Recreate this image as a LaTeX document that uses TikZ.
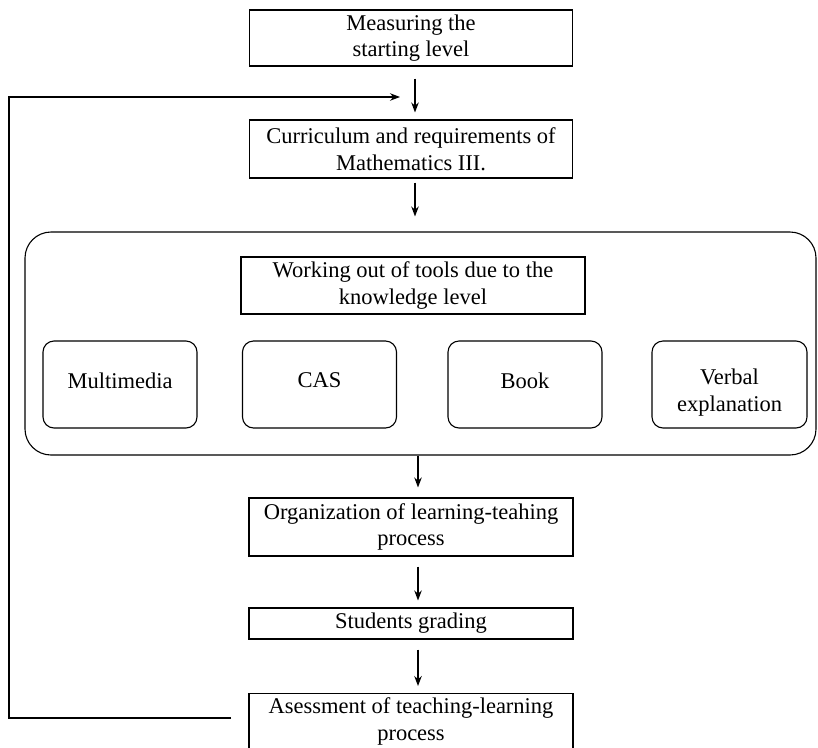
\documentclass[tikz,border=0pt]{standalone}
\usepackage{fontspec}
\setmainfont{Liberation Serif}
\usetikzlibrary{arrows.meta,positioning}
\begin{document}
\begin{tikzpicture}[x=1pt,y=-1pt,
  every node/.style={font=\fontsize{22.5}{26.5}\selectfont, align=center, inner sep=0pt},
  sqbox/.style={draw, line width=1.1pt, minimum width=323pt},
  rbox/.style={draw, line width=1.1pt, rounded corners=11pt, minimum width=154pt, minimum height=87pt},
  arr/.style={line width=1.2pt, -{Stealth[length=10pt,width=7.5pt]}},
  fb/.style={line width=1.2pt}]
\useasboundingbox (0,0) rectangle (818,747);
\clip (0,0) rectangle (818,747);
\node[sqbox, minimum height=56pt] (m1) at (411,38) {Measuring the\\starting level};
\node[sqbox, minimum height=58pt] (m2) at (411,149) {Curriculum and requirements of\\Mathematics III.};
\node[draw, line width=1.1pt, rounded corners=26pt, minimum width=791pt, minimum height=223pt] (big) at (420.5,343.5) {};
\node[sqbox, minimum width=344pt, minimum height=57pt] (work) at (413,285.5) {Working out of tools due to the\\knowledge level};
\node[rbox] (mm) at (120,384.5) {};
\node[rbox] (cas) at (319.5,384.5) {};
\node[rbox] (book) at (525,384.5) {};
\node[rbox, minimum width=155pt] (verb) at (729.5,384.5) {};
\node at ([yshift=4pt]mm.center) {Multimedia};
\node at ([yshift=4pt]cas.center) {CAS};
\node at ([yshift=4pt]book.center) {Book};
\node at ([yshift=-8pt]verb.center) {Verbal\\explanation};
\node[sqbox, minimum width=324pt, minimum height=58pt] (org) at (411,527) {Organization of learning-teahing\\process};
\node[sqbox, minimum width=324pt, minimum height=31pt] (stu) at (411,623.5) {Students grading};
\node[sqbox, minimum width=324pt, minimum height=56pt, anchor=north] (ass) at (411,693) {Asessment of teaching-learning\\process};
\draw[arr] ([xshift=4pt,yshift=-12pt]m1.south) -- ([xshift=4pt,yshift=7pt]m2.north);
\draw[arr] ([xshift=4pt,yshift=-4pt]m2.south) -- ([xshift=4pt,yshift=15pt]big.north -| m2.south);
\draw[arr] ([xshift=7pt]big.south -| org.north) -- ([xshift=7pt,yshift=10pt]org.north);
\draw[arr] ([xshift=7pt,yshift=-10pt]org.south) -- ([xshift=7pt,yshift=7pt]stu.north);
\draw[arr] ([xshift=7pt,yshift=-10pt]stu.south) -- ([xshift=7pt,yshift=7pt]ass.north);
\coordinate (fbstart) at (231,718);
\coordinate (fbend) at (400,97);
\draw[fb, -{Stealth[length=10pt,width=7.5pt]}] (fbstart) -- (9,718) -- (9,97) -- (fbend);
\end{tikzpicture}
\end{document}
